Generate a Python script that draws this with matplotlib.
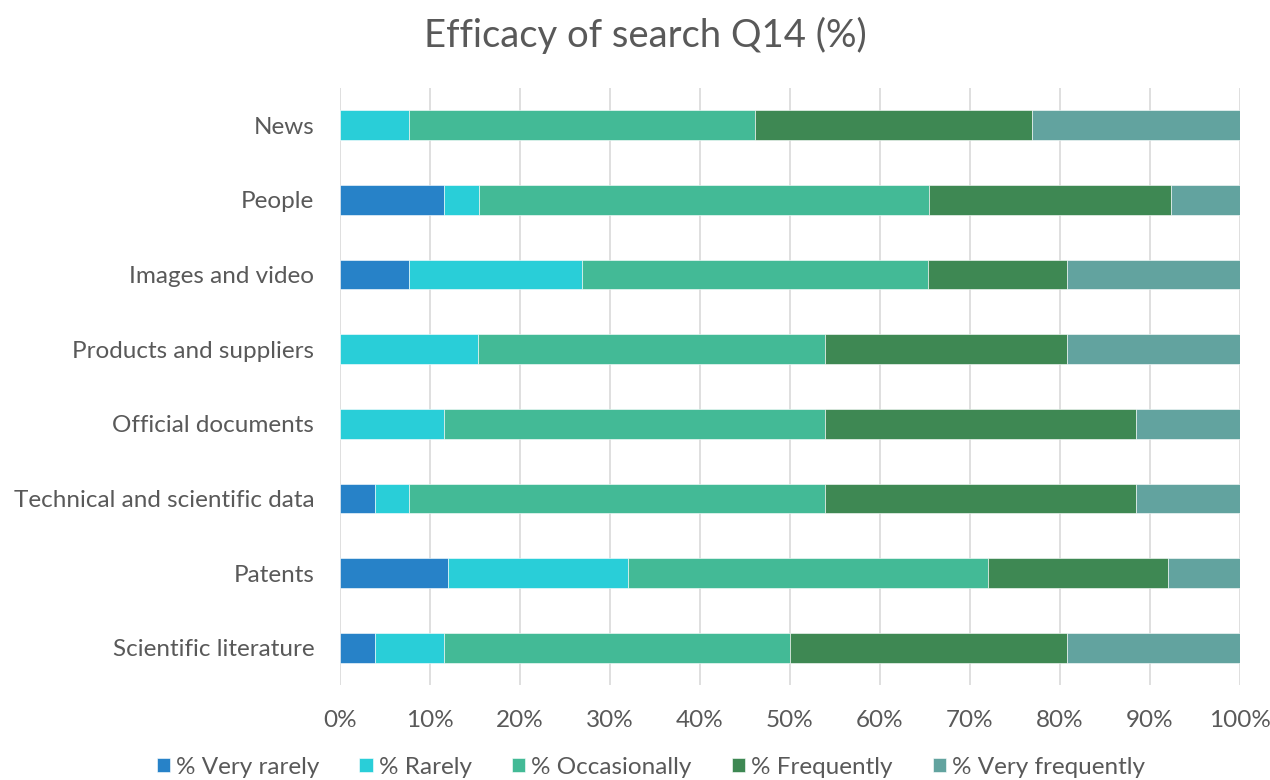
import matplotlib.pyplot as plt
import numpy as np

plt.rcParams['font.family'] = ['Lato', 'DejaVu Sans']

categories = ["News", "People", "Images and video", "Products and suppliers",
              "Official documents", "Technical and scientific data", "Patents",
              "Scientific literature"]
series_names = ["% Very rarely", "% Rarely", "% Occasionally", "% Frequently",
                "% Very frequently"]
very_rarely = [0.00, 11.54, 7.69, 0.00, 0.00, 3.85, 12.0, 3.85]
rarely = [7.69, 3.85, 19.23, 15.38, 11.54, 3.85, 20.0, 7.69]
occasionally = [38.46, 50.00, 38.46, 38.46, 42.31, 46.15, 40.0, 38.46]
frequently = [30.77, 26.92, 15.38, 26.92, 34.62, 34.62, 20.0, 30.77]
very_frequently = [23.08, 7.69, 19.23, 19.23, 11.54, 11.54, 8.0, 19.23]
colors = ["#2782C8", "#29CED8", "#43BA96", "#3E8853", "#62A39F"]

text_color = "#595959"
fig = plt.figure(figsize=(12.7, 7.8), dpi=100)
ax = fig.add_axes([340 / 1270, 1 - 685 / 780, 900 / 1270, 597 / 780])

y = np.arange(len(categories))
left = np.zeros(len(categories))
for name, vals, col in zip(series_names,
                           [very_rarely, rarely, occasionally, frequently, very_frequently],
                           colors):
    vals = np.array(vals)
    ax.barh(y, vals, left=left, height=0.4, color=col, label=name,
            edgecolor="white", linewidth=0.4, zorder=3)
    left += vals

ax.set_xlim(0, 100)
ax.set_ylim(len(categories) - 0.5, -0.5)
ax.set_xticks(np.arange(0, 101, 10))
ax.set_xticklabels([f"{v}%" for v in range(0, 101, 10)])
ax.set_yticks(y)
ax.set_yticklabels(categories)
ax.tick_params(axis="both", length=0, colors=text_color, labelsize=17.5)
ax.tick_params(axis="x", pad=18)
ax.tick_params(axis="y", pad=18.5)
ax.grid(axis="x", color="#D9D9D9", linewidth=1.2, zorder=0)
for s in ax.spines.values():
    s.set_visible(False)

fig.text(645 / 1270, 1 - 35 / 780, "Efficacy of search Q14 (%)", ha="center",
         va="center", fontsize=27.5, color=text_color)

fig.legend(loc="center", bbox_to_anchor=(651 / 1270, 1 - 767 / 780), ncol=5,
           frameon=False, fontsize=17.5, labelcolor=text_color, handlelength=0.55,
           handleheight=0.55, handletextpad=0.25, columnspacing=1.65)

fig.savefig("out.png", dpi=100)
